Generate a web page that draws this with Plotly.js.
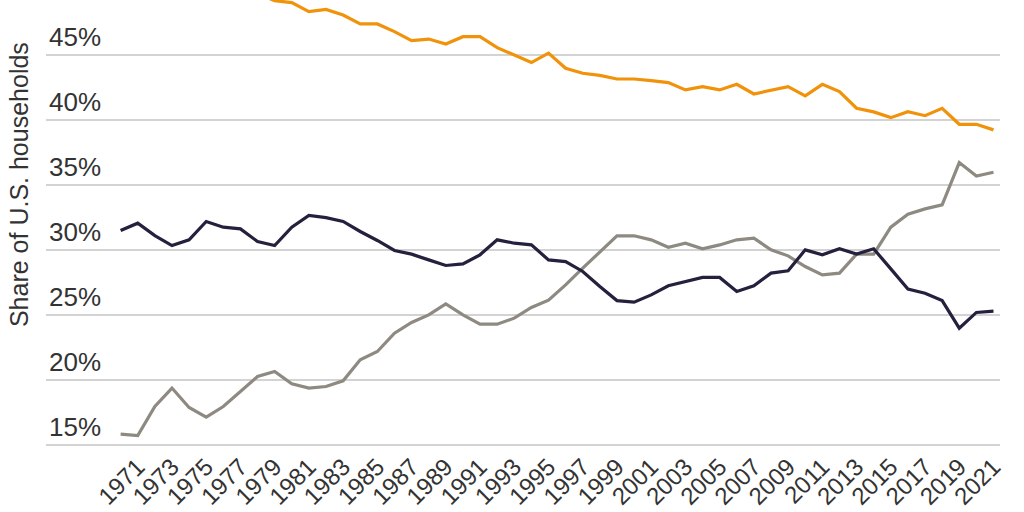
<!DOCTYPE html>
<html>
<head>
<meta charset="utf-8">
<script src="https://cdn.plot.ly/plotly-3.0.1.min.js"></script>
<style>html,body{margin:0;padding:0;background:#fff;}#chart{width:1024px;height:512px;}</style>
</head>
<body>
<div id="chart"></div>
<script>
const years = [];
for (let y = 1970; y <= 2021; y++) years.push(y);

const tickYears = [1971,1973,1975,1977,1979,1981,1983,1985,1987,1989,1991,1993,1995,1997,1999,2001,2003,2005,2007,2009,2011,2013,2015,2017,2019,2021];
const yTickVals = [15,20,25,30,35,40,45];
const yTickText = ['15%','20%','25%','30%','35%','40%','45%'];

const orangeSeries = [52.6,52.3,52.0,51.6,51.2,50.9,50.5,50.2,49.7,49.15,
  49.0,48.3,48.48,48.05,47.36,47.36,46.77,46.08,46.2,45.82,
  46.38,46.38,45.54,44.98,44.39,45.12,43.95,43.57,43.41,43.13,
  43.13,43.0,42.85,42.29,42.54,42.29,42.72,41.98,42.29,42.54,
  41.83,42.72,42.16,40.88,40.6,40.16,40.62,40.31,40.88,39.65,
  39.65,39.22];

const navySeries = [31.48,32.05,31.1,30.33,30.77,32.18,31.74,31.61,30.64,30.33,
  31.74,32.64,32.48,32.18,31.41,30.72,29.95,29.67,29.23,28.8,
  28.92,29.62,30.77,30.51,30.38,29.23,29.1,28.34,27.18,26.1,
  25.98,26.54,27.24,27.57,27.88,27.88,26.8,27.24,28.21,28.39,
  30.0,29.62,30.08,29.67,30.08,28.54,26.98,26.67,26.1,23.98,
  25.19,25.29];

const graySeries = [15.84,15.73,17.96,19.38,17.89,17.15,17.96,19.12,20.27,20.65,
  19.71,19.38,19.5,19.94,21.55,22.19,23.6,24.42,25.0,25.85,
  25.0,24.29,24.29,24.75,25.57,26.13,27.31,28.59,29.87,31.08,
  31.08,30.77,30.2,30.51,30.08,30.38,30.77,30.9,30.0,29.54,
  28.72,28.08,28.21,29.67,29.67,31.74,32.74,33.15,33.46,36.71,
  35.68,35.96];

const FONT = '"Liberation Sans", Arial, sans-serif';

const traces = [
  {x: years, y: orangeSeries, type: 'scatter', mode: 'lines',
   line: {color: '#F0920A', width: 3.2}, hoverinfo: 'skip'},
  {x: years, y: graySeries, type: 'scatter', mode: 'lines',
   line: {color: '#8E8A82', width: 3.2}, hoverinfo: 'skip'},
  {x: years, y: navySeries, type: 'scatter', mode: 'lines',
   line: {color: '#24203D', width: 3.2}, hoverinfo: 'skip'}
];

const layout = {
  width: 1024, height: 512,
  margin: {l: 46, r: 24, t: 0, b: 65},
  paper_bgcolor: '#ffffff', plot_bgcolor: '#ffffff',
  showlegend: false,
  font: {family: FONT, color: '#333333', size: 26},
  xaxis: {
    range: [1965.64, 2021.38],
    tickmode: 'array', tickvals: tickYears, ticktext: tickYears.map(String),
    tickangle: -45, tickfont: {size: 24, color: '#333333', family: FONT},
    showgrid: false, zeroline: false, showline: false, ticks: '',
    automargin: false, fixedrange: true
  },
  yaxis: {
    range: [14.85, 49.2],
    tickmode: 'array', tickvals: yTickVals, ticktext: yTickText,
    ticklabelposition: 'inside top',
    tickfont: {size: 26, color: '#333333', family: FONT},
    showgrid: true, gridcolor: '#D3D3D3', gridwidth: 2,
    zeroline: false, showline: false, ticks: '',
    automargin: false, fixedrange: true
  },
  annotations: [{
    text: 'Share of U.S. households',
    xref: 'paper', yref: 'paper',
    x: -0.0283, y: 0.586, xanchor: 'center', yanchor: 'middle',
    textangle: -90, showarrow: false,
    font: {size: 25, color: '#333333', family: FONT}
  }]
};

Plotly.newPlot('chart', traces, layout, {displayModeBar: false, staticPlot: true});
</script>
</body>
</html>
